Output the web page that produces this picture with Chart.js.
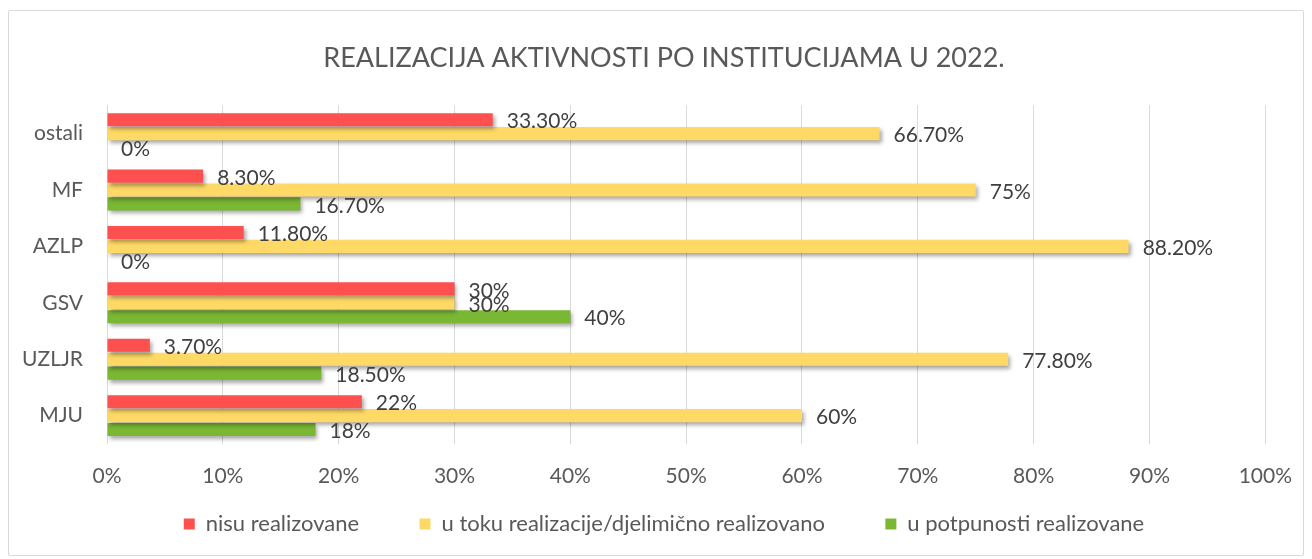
<!DOCTYPE html>
<html>
<head>
<meta charset="utf-8">
<script src="https://cdn.jsdelivr.net/npm/chart.js@4"></script>
<style>
  html, body { margin: 0; padding: 0; background: #fff; }
  #frame { position: absolute; left: 8px; top: 10px; width: 1294px; height: 544px; border: 1px solid #d9d9d9; border-radius: 2px; }
  #wrap { position: absolute; left: 0; top: 0; width: 1312px; height: 559px; }
</style>
</head>
<body>
<div id="frame"></div>
<div id="wrap"><canvas id="chart" width="1312" height="559"></canvas></div>
<script>
// Podaci grafikona (procenti)
const institucije = ['ostali', 'MF', 'AZLP', 'GSV', 'UZLJR', 'MJU'];
const nisuRealizovane = [33.3, 8.3, 11.8, 30, 3.7, 22];
const uToku = [66.7, 75, 88.2, 30, 77.8, 60];
const uPotpunosti = [0, 16.7, 0, 40, 18.5, 18];
const xTicks = [0, 10, 20, 30, 40, 50, 60, 70, 80, 90, 100];

const FONT = 'Lato, "Open Sans", sans-serif';
const TEXT = '#595959';

function fmtPct(v) {
  return Number.isInteger(v) ? v + '%' : v.toFixed(2) + '%';
}

// sjena ispod traka + oznake vrijednosti
const barExtras = {
  id: 'barExtras',
  afterLayout(chart) {
    // ne sjeci nazive kategorija koji prelaze lijevi rub ose
    chart.scales.y._computeLabelArea = () => undefined;
  },
  beforeDatasetsDraw(chart) {
    const ctx = chart.ctx;
    ctx.save();
    ctx.shadowColor = 'rgba(0,0,0,0.35)';
    ctx.shadowBlur = 4;
    ctx.shadowOffsetX = 2;
    ctx.shadowOffsetY = 3;
  },
  afterDatasetsDraw(chart) {
    const ctx = chart.ctx;
    ctx.restore();
    ctx.save();
    ctx.font = '21px ' + FONT;
    ctx.fillStyle = '#404040';
    ctx.textAlign = 'left';
    ctx.textBaseline = 'middle';
    chart.data.datasets.forEach((ds, i) => {
      chart.getDatasetMeta(i).data.forEach((bar, j) => {
        ctx.fillText(fmtPct(ds.data[j]), bar.x + 14, bar.y + 2);
      });
    });
    ctx.restore();
  }
};

const razmak = '\u00a0'.repeat(10);

new Chart(document.getElementById('chart'), {
  type: 'bar',
  data: {
    labels: institucije,
    datasets: [
      { label: 'nisu realizovane', data: nisuRealizovane, backgroundColor: '#FF5050' },
      { label: 'u toku realizacije/djelimično realizovano', data: uToku, backgroundColor: '#FFD966' },
      { label: 'u potpunosti realizovane', data: uPotpunosti, backgroundColor: '#7AB733' }
    ]
  },
  options: {
    indexAxis: 'y',
    responsive: false,
    animation: false,
    datasets: { bar: { categoryPercentage: 0.74, barPercentage: 0.94 } },
    layout: { padding: { left: 62, right: 46, top: 0, bottom: 14 } },
    plugins: {
      title: {
        display: true,
        text: 'REALIZACIJA AKTIVNOSTI PO INSTITUCIJAMA U 2022.',
        color: TEXT,
        font: { family: FONT, size: 27, weight: 'normal' },
        padding: { top: 42, bottom: 31 }
      },
      legend: {
        position: 'bottom',
        labels: {
          color: TEXT,
          font: { family: FONT, size: 22 },
          boxWidth: 11,
          boxHeight: 11,
          padding: 4,
          generateLabels(chart) {
            const items = Chart.defaults.plugins.legend.labels.generateLabels(chart);
            items.forEach((it, i) => { if (i < items.length - 1) it.text += razmak; });
            return items;
          }
        }
      },
      tooltip: { enabled: false }
    },
    scales: {
      x: {
        min: 0,
        max: 100,
        afterBuildTicks(scale) { scale.ticks = xTicks.map(v => ({ value: v })); },
        ticks: {
          callback: v => v + '%',
          color: TEXT,
          font: { family: FONT, size: 21 },
          padding: 20
        },
        grid: { color: '#d9d9d9', drawTicks: false },
        border: { display: false }
      },
      y: {
        afterFit(scale) { scale.width = 45; },
        ticks: {
          color: TEXT,
          font: { family: FONT, size: 21 },
          padding: 24
        },
        grid: { display: false, drawTicks: false },
        border: { display: false }
      }
    }
  },
  plugins: [barExtras]
});
</script>
</body>
</html>
